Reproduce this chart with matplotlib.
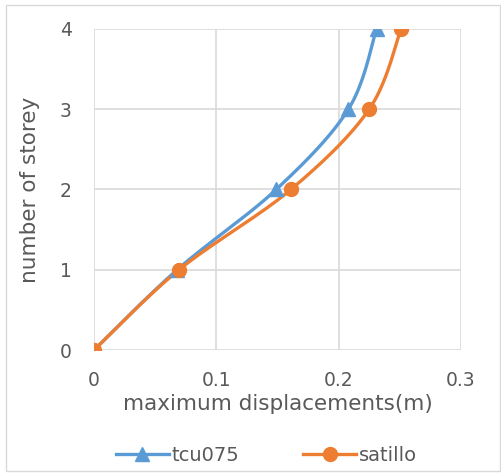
import numpy as np
import matplotlib.pyplot as plt
from matplotlib.patches import Rectangle

# storey levels and peak displacement per record
storeys = [0, 1, 2, 3, 4]
tcu075 = [0.0, 0.068, 0.149, 0.208, 0.231]
satillo = [0.0, 0.0695, 0.161, 0.225, 0.251]

x_ticks = [0, 0.1, 0.2, 0.3]
y_ticks = [0, 1, 2, 3, 4]

blue = '#5b9bd5'
orange = '#ed7d31'
grid_gray = '#d9d9d9'
text_gray = '#595959'


# Smoothed line through points (cubic Bezier, Catmull-Rom style tangents)
def smooth(xs, ys, n=40):
    p = np.column_stack([xs, ys]).astype(float)
    out = [p[0]]
    for i in range(len(p) - 1):
        p0 = p[i - 1] if i > 0 else p[i]
        p3 = p[i + 2] if i + 2 < len(p) else p[i + 1]
        p1, p2 = p[i], p[i + 1]
        c1 = p1 + (p2 - p0) / 6
        c2 = p2 - (p3 - p1) / 6
        t = np.linspace(0, 1, n)[1:, None]
        seg = ((1 - t) ** 3) * p1 + 3 * ((1 - t) ** 2) * t * c1 + 3 * (1 - t) * t ** 2 * c2 + t ** 3 * p2
        out.extend(seg)
    out = np.array(out)
    return out[:, 0], out[:, 1]


fig = plt.figure(figsize=(5.02, 4.73), dpi=100)
ax = fig.add_axes([0.1873, 0.260, 0.731, 0.679])

for xs, color, marker, ms, label in [(tcu075, blue, '^', 10, 'tcu075'),
                                     (satillo, orange, 'o', 10, 'satillo')]:
    sx, sy = smooth(xs, storeys)
    ax.plot(sx, sy, color=color, lw=2.4, solid_capstyle='round', zorder=3)
    ax.plot(xs, storeys, linestyle='none', marker=marker, ms=ms, color=color, zorder=4)
    ax.plot([], [], color=color, lw=2.4, marker=marker, ms=ms, label=label)

ax.set_xlim(0, 0.3)
ax.set_ylim(0, 4)
ax.set_xticks(x_ticks)
ax.set_xticklabels(['0', '0.1', '0.2', '0.3'])
ax.set_yticks(y_ticks)
ax.grid(True, color=grid_gray, lw=1.2)
ax.set_axisbelow(True)
for s in ax.spines.values():
    s.set_visible(False)
ax.tick_params(length=0, labelsize=13.5, colors=text_gray)
ax.tick_params(axis='x', pad=15)
ax.tick_params(axis='y', pad=16)
ax.set_xlabel('maximum displacements(m)', fontsize=15.5, color=text_gray, labelpad=3)
ax.set_ylabel('number of storey', fontsize=15.5, color=text_gray, labelpad=14)

ax.legend(loc='center', bbox_to_anchor=(0.47, -0.327), ncol=2, frameon=False,
          fontsize=14, labelcolor=text_gray, handlelength=2.7, columnspacing=3.3,
          handletextpad=0.15)

fig.patches.append(Rectangle((0.012, 0.005), 0.985, 0.984, transform=fig.transFigure,
                             fill=False, edgecolor=grid_gray, lw=1))

fig.savefig('out.png', dpi=100)
